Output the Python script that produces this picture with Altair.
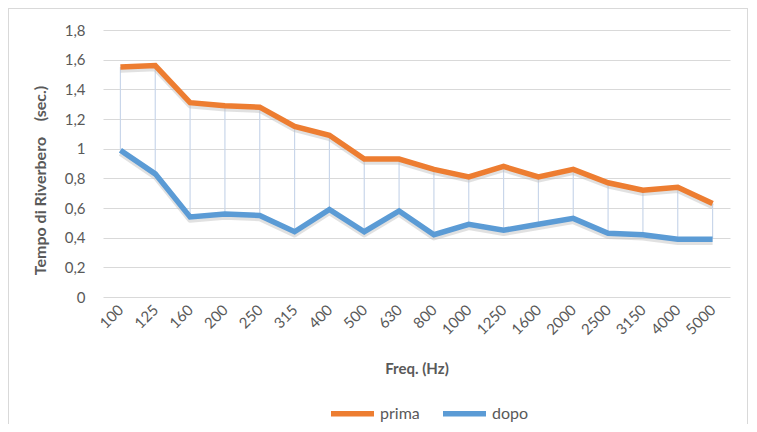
import altair as alt
import pandas as pd

freqs = ["100", "125", "160", "200", "250", "315", "400", "500", "630", "800",
         "1000", "1250", "1600", "2000", "2500", "3150", "4000", "5000"]
prima = [1.55, 1.56, 1.31, 1.29, 1.28, 1.15, 1.09, 0.93, 0.93, 0.86,
         0.81, 0.88, 0.81, 0.86, 0.77, 0.72, 0.74, 0.63]
dopo = [0.99, 0.83, 0.54, 0.56, 0.55, 0.44, 0.59, 0.44, 0.58, 0.42,
        0.49, 0.45, 0.49, 0.53, 0.43, 0.42, 0.39, 0.39]
series = ["prima", "dopo"]
colors = ["#ED7D31", "#5B9BD5"]
y_ticks = [0, 0.2, 0.4, 0.6, 0.8, 1.0, 1.2, 1.4, 1.6, 1.8]

long = pd.DataFrame(
    [{"freq": f, "serie": "prima", "val": v, "ord": 0} for f, v in zip(freqs, prima)]
    + [{"freq": f, "serie": "dopo", "val": v, "ord": 1} for f, v in zip(freqs, dopo)]
)
wide = pd.DataFrame({"freq": freqs, "prima": prima, "dopo": dopo})

FONT = "Lato"
GRAY = "#595959"
FS = 15

x_scale = alt.Scale(type="point", padding=0.5)
y_scale = alt.Scale(domain=[0, 1.8], nice=False)

x_axis = alt.Axis(labelAngle=-45, labelAlign="right", labelBaseline="middle",
                  labelPadding=10, ticks=False, domain=False, grid=False,
                  labelOverlap=False, titlePadding=24, labelFontSize=FS,
                  titleFontSize=FS, labelColor=GRAY, titleColor=GRAY,
                  titleFontWeight="bold")
y_axis = alt.Axis(values=y_ticks, ticks=False, domain=False, labelOverlap=False,
                  labelExpr="replace(format(datum.value, '.1~f'), '.', ',')",
                  labelPadding=18, labelFontSize=FS, titleFontSize=16,
                  labelColor=GRAY, titleColor=GRAY, titleFontWeight="bold",
                  titlePadding=16, titleY=150, gridColor="#d9d9d9", gridWidth=1)
Y_TITLE = "Tempo di Riverbero\u00a0\u00a0\u00a0\u00a0(sec.)"
X_TITLE = "Freq. (Hz)"

frame = alt.Chart(wide).mark_rect(fill=None, stroke="#d9d9d9", strokeWidth=1).encode(
    x=alt.value(-94.5), x2=alt.value(644.5), y=alt.value(-21.5), y2=alt.value(430),
)

drop = alt.Chart(wide).mark_rule(color="#c9d6ea", strokeWidth=1.2).encode(
    x=alt.X("freq:N", sort=freqs, scale=x_scale, title=X_TITLE, axis=x_axis),
    y=alt.Y("dopo:Q", scale=y_scale, title=Y_TITLE, axis=y_axis),
    y2="prima:Q",
)

shadow = alt.Chart(long).mark_line(strokeWidth=5.5, color="#bdbdbd", opacity=0.45,
                                   yOffset=3, strokeJoin="round").encode(
    x=alt.X("freq:N", sort=freqs, scale=x_scale, title=X_TITLE, axis=x_axis),
    y=alt.Y("val:Q", scale=y_scale, title=Y_TITLE, axis=y_axis),
    detail="serie:N",
)

lines = alt.Chart(long).mark_line(strokeWidth=5.5, strokeJoin="miter",
                                  strokeCap="butt").encode(
    x=alt.X("freq:N", sort=freqs, scale=x_scale, title=X_TITLE, axis=x_axis),
    y=alt.Y("val:Q", scale=y_scale, title=Y_TITLE, axis=y_axis),
    color=alt.Color("serie:N", scale=alt.Scale(domain=series, range=colors),
                    legend=alt.Legend(title=None, orient="none", direction="horizontal",
                                      legendX=225, legendY=359,
                                      symbolType="stroke", symbolStrokeWidth=5.5,
                                      symbolSize=1849, labelFontSize=16,
                                      labelColor=GRAY, columnPadding=12,
                                      labelOffset=3)),
    order="ord:Q",
)

chart = alt.layer(frame, drop, shadow, lines).properties(
    width=627, height=267,
    autosize=alt.AutoSizeParams(type="none"),
    padding={"left": 95, "top": 22, "right": 19, "bottom": 127},
).configure(font=FONT).configure_view(stroke=None)

chart.save("out.html", embed_options={"renderer": "svg", "actions": False})
